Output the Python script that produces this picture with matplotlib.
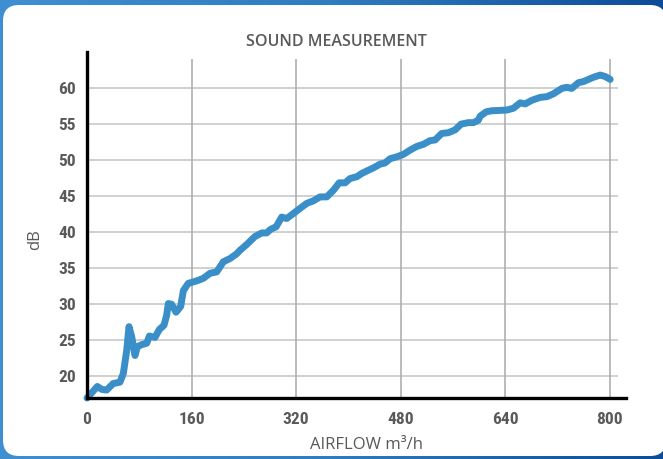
import matplotlib
matplotlib.use("Agg")
import matplotlib.pyplot as plt
import numpy as np
from matplotlib.patches import FancyBboxPatch
from matplotlib.colors import LinearSegmentedColormap
from matplotlib.transforms import IdentityTransform

# sound level vs airflow
airflow = [0, 8, 15.8, 22.5, 30, 40, 50.5, 55.6, 60.8, 64.3, 68.4, 73.5, 77,
           83.7, 91.4, 95.5, 104, 110.7, 117.9, 122, 124.5, 129.6, 136.3, 143.4,
           147.5, 155, 168, 178, 188.3, 198.6, 208.7, 219, 229, 234.3, 244.5,
           257, 267.5, 275, 281, 289.4, 298, 305.6, 316, 326, 336.4, 346.5,
           356.7, 367, 377, 386, 395, 402.7, 413, 420.5, 430.7, 440, 448.6,
           456, 464, 474, 484.3, 494.6, 504.8, 515, 525, 532.8, 543, 553,
           563.5, 572.6, 583.8, 591.5, 599, 601.8, 611, 619.7, 632.4, 642.6,
           652.8, 663, 670.6, 680.9, 693.6, 703.8, 714, 726.8, 734.5, 742,
           752.3, 760, 767.6, 775.3, 785.5, 793.2, 800.8]
db = [17.0, 17.8, 18.6, 18.2, 18.1, 19.0, 19.2, 20.4, 23.6, 26.9, 25.5, 22.9,
      24.1, 24.4, 24.6, 25.6, 25.4, 26.5, 27.1, 28.5, 30.1, 30.0, 28.9, 29.7,
      31.9, 32.9, 33.25, 33.6, 34.3, 34.5, 35.9, 36.35, 37.0, 37.5, 38.3,
      39.4, 39.9, 39.9, 40.4, 40.75, 42.1, 41.9, 42.6, 43.3, 44.0, 44.35,
      44.9, 44.9, 45.8, 46.85, 46.85, 47.45, 47.7, 48.15, 48.6, 49.0, 49.45,
      49.6, 50.2, 50.45, 50.8, 51.4, 51.9, 52.2, 52.7, 52.8, 53.7, 53.8,
      54.2, 55.0, 55.2, 55.2, 55.55, 56.1, 56.7, 56.85, 56.9, 56.95,
      57.2, 57.95, 57.8, 58.3, 58.7, 58.8, 59.2, 59.95, 60.1, 59.95,
      60.75, 60.9, 61.2, 61.5, 61.8, 61.6, 61.2]

xticks = [0, 160, 320, 480, 640, 800]
yticks = [20, 25, 30, 35, 40, 45, 50, 55, 60]

gray = '#595959'
tick_font = ['Roboto Condensed', 'Liberation Sans']
label_font = ['Open Sans', 'DejaVu Sans']

fig = plt.figure(figsize=(6.63, 4.59), dpi=100)

# blue frame with white rounded panel
bg = fig.add_axes([0, 0, 1, 1])
grad = np.linspace(0, 1, 256).reshape(1, -1)
cmap = LinearSegmentedColormap.from_list('frame', ['#3f8fd2', '#2f7cc0', '#0c4c98'])
bg.imshow(grad, extent=[0, 1, 0, 1], aspect='auto', cmap=cmap)
bg.set_axis_off()
panel = FancyBboxPatch((3, 3), 663, 451, boxstyle='round,pad=0,rounding_size=16',
                       transform=IdentityTransform(), facecolor='white',
                       edgecolor='none')
bg.add_patch(panel)

ax = fig.add_axes([87 / 663, 61 / 459, 539 / 663, 346 / 459])
ax.set_facecolor('none')
ax.set_xlim(0, 825)
ax.set_ylim(17, 65)

ax.hlines(yticks, 0, 813, color='#c4c4c4', lw=1.1, zorder=1)
ax.vlines(xticks[1:], 17, 64, color='#a8a8a8', lw=1.1, zorder=1)

ax.plot(airflow, db, color='#3b8fc8', lw=5, solid_joinstyle='round',
        solid_capstyle='round', zorder=3, clip_on=False)

ax.set_xticks(xticks)
ax.set_yticks(yticks)
ax.tick_params(length=0, colors=gray)
ax.tick_params(axis='x', pad=10)
ax.tick_params(axis='y', pad=8)
for lab in ax.get_xticklabels() + ax.get_yticklabels():
    lab.set_family(tick_font)
    lab.set_fontweight('bold')
    lab.set_fontsize(12.5)

for s in ['top', 'right']:
    ax.spines[s].set_visible(False)
for s in ['left', 'bottom']:
    ax.spines[s].set_linewidth(2.4)
    ax.spines[s].set_color('black')
    ax.spines[s].set_zorder(4)

fig.text(336 / 663, 1 - 42 / 459, 'SOUND MEASUREMENT', ha='center', va='center',
         color=gray, fontsize=11.5, fontweight='semibold', family=label_font)
fig.text(367 / 663, 1 - 445 / 459, 'AIRFLOW m³/h', ha='center', va='center',
         color=gray, fontsize=12, family=label_font)
fig.text(35 / 663, 1 - 240 / 459, 'dB', ha='center', va='center', rotation=90,
         color=gray, fontsize=12, family=label_font)

fig.savefig('out.png', dpi=100)
